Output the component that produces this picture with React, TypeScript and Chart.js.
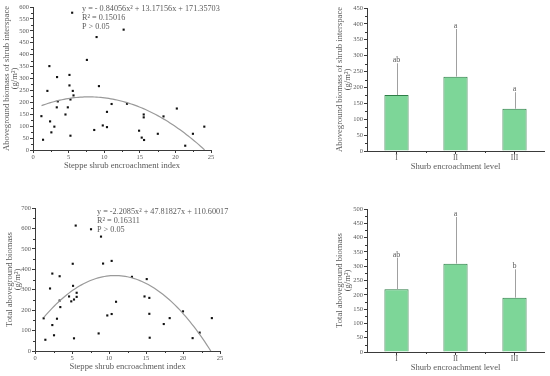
import React, { useEffect, useRef } from "react";
import { Chart, registerables } from "chart.js";
Chart.register(...registerables);

// ---------- data ----------
const shrubIndexA = [1.18, 1.41, 2.02, 2.3, 2.4, 2.58, 3.0, 3.34, 3.38, 3.48, 4.56, 4.89, 5.12, 5.12, 5.26, 5.26, 5.5, 5.59, 5.69, 7.57, 8.6, 8.93, 9.26, 9.8, 10.39, 10.39, 11.04, 12.73, 13.2, 14.9, 15.27, 15.55, 15.55, 15.6, 17.53, 18.33, 20.2, 21.38, 22.46, 24.06];
const interspaceBiomass = [142, 43, 248, 352, 120, 74, 98, 179, 306, 204, 149, 179, 315, 271, 212, 60, 576, 248, 229, 378, 84, 474, 268, 103, 96, 160, 193, 505, 194, 81, 52, 149, 137, 42, 68, 141, 174, 18, 68, 98];

const shrubIndexB = [1.17, 1.4, 2.03, 2.34, 2.34, 2.57, 2.97, 3.33, 3.33, 3.42, 4.6, 4.9, 5.1, 5.14, 5.27, 5.27, 5.5, 5.63, 5.63, 7.57, 8.6, 8.92, 9.2, 9.77, 10.36, 10.36, 10.95, 13.1, 14.8, 15.1, 15.45, 15.45, 15.5, 17.4, 18.2, 20.0, 21.3, 22.25, 23.9];
const totalBiomass = [160, 55, 306, 379, 127, 77, 158, 247, 366, 215, 267, 243, 427, 319, 252, 62, 614, 285, 265, 596, 86, 560, 428, 174, 181, 441, 241, 363, 267, 352, 260, 182, 65, 132, 161, 194, 63, 90, 161];

// quadratic fit coefficients [a, b, c] as printed on the chart, and drawn x-range
const fitCoefA = [-0.84056, 13.17156, 171.35703];
const fitRangeA = [1.2, 24.1];
const fitCoefB = [-2.2085, 47.81827, 110.60017];
const fitRangeB = [1.2, 23.76];

const equationA = ["y = - 0.84056x² + 13.17156x + 171.35703", "R² = 0.15016", "P > 0.05"];
const equationB = ["y = -2.2085x² + 47.81827x + 110.60017", "R² = 0.16311", "P > 0.05"];

const levels = ["I", "II", "III"];
const interspaceMeans = [176, 234, 133];
const interspaceUpper = [276, 384, 185];
const interspaceLetters = ["ab", "a", "a"];
const totalMeans = [219, 309, 190];
const totalUpper = [330, 472, 289];
const totalLetters = ["ab", "a", "b"];

// ---------- styles ----------
const FONT = '"Liberation Serif", "DejaVu Serif", serif';
const TEXT = "#5a5a5a";
const AXIS = "#3a3a3a";
const BAR_FILL = "rgb(125, 214, 152)";
const BAR_EDGE = "rgb(45, 125, 70)";

// ---------- plugins ----------
const minorTicks = {
  id: "minorTicks",
  afterDraw(chart: any) {
    const ctx = chart.ctx;
    ctx.save();
    ctx.strokeStyle = AXIS;
    ctx.lineWidth = 1;
    Object.values(chart.scales).forEach((s: any) => {
      const pts: number[] = [];
      if (s.type === "linear") {
        for (let i = 0; i < s.ticks.length - 1; i++) {
          pts.push(s.getPixelForValue((s.ticks[i].value + s.ticks[i + 1].value) / 2));
        }
      } else if (s.type === "category") {
        for (let i = 1; i < s.ticks.length; i++) {
          pts.push((s.getPixelForTick(i - 1) + s.getPixelForTick(i)) / 2);
        }
      }
      ctx.beginPath();
      pts.forEach((p) => {
        const q = Math.round(p) + 0.5;
        if (s.isHorizontal()) {
          ctx.moveTo(q, s.top);
          ctx.lineTo(q, s.top + 2);
        } else {
          ctx.moveTo(s.right, q);
          ctx.lineTo(s.right - 2, q);
        }
      });
      ctx.stroke();
    });
    ctx.restore();
  },
};

const errorBars = {
  id: "errorBars",
  afterDatasetsDraw(chart: any, _a: any, opts: any) {
    if (!opts || !opts.upper) return;
    const meta = chart.getDatasetMeta(0);
    const yScale = chart.scales.y;
    const ctx = chart.ctx;
    ctx.save();
    meta.data.forEach((el: any, i: number) => {
      const top = yScale.getPixelForValue(opts.upper[i]);
      const x = Math.round(el.x) + 0.5;
      ctx.strokeStyle = "#a0a0a0";
      ctx.lineWidth = 1;
      ctx.beginPath();
      ctx.moveTo(x, el.y);
      ctx.lineTo(x, top);
      ctx.stroke();
      ctx.fillStyle = TEXT;
      ctx.font = `8px ${FONT}`;
      ctx.textAlign = "center";
      ctx.textBaseline = "alphabetic";
      ctx.fillText(opts.letters[i], el.x, top - 1);
    });
    ctx.restore();
  },
};

const equationText = {
  id: "equationText",
  afterDraw(chart: any, _a: any, opts: any) {
    if (!opts || !opts.lines) return;
    const { left, top } = chart.chartArea;
    const ctx = chart.ctx;
    ctx.save();
    ctx.font = `8.2px ${FONT}`;
    ctx.fillStyle = TEXT;
    ctx.textAlign = "left";
    ctx.textBaseline = "middle";
    opts.lines.forEach((t: string, i: number) => ctx.fillText(t, left + opts.dx, top + opts.dy + i * 9));
    ctx.restore();
  },
};

// ---------- helpers ----------
function axisCommon() {
  return {
    grid: { display: true, drawOnChartArea: false, drawTicks: true, tickLength: 3, color: AXIS },
    border: { display: true, color: AXIS, width: 1 },
  };
}

function fitCurve(coef: number[], range: number[]) {
  const pts: { x: number; y: number }[] = [];
  const n = 80;
  for (let i = 0; i <= n; i++) {
    const x = range[0] + ((range[1] - range[0]) * i) / n;
    pts.push({ x, y: coef[0] * x * x + coef[1] * x + coef[2] });
  }
  return pts;
}

function scatterConfig(xs: number[], ys: number[], coef: number[], range: number[], yMax: number, yStep: number, yTitle: string, pad: any, yWidth: number, eq: string[], eqPos: number[]) {
  return {
    type: "scatter",
    data: {
      datasets: [
        {
          data: fitCurve(coef, range),
          showLine: true,
          pointRadius: 0,
          borderColor: "#9a9a9a",
          borderWidth: 1.2,
          tension: 0,
        },
        {
          data: xs.map((x, i) => ({ x, y: ys[i] })),
          pointStyle: "rect",
          pointRadius: 1.5,
          backgroundColor: "#111",
          borderColor: "#111",
          borderWidth: 0,
        },
      ],
    },
    options: {
      responsive: false,
      animation: false,
      devicePixelRatio: 1,
      layout: { padding: pad },
      plugins: {
        legend: { display: false },
        tooltip: { enabled: false },
        equationText: { lines: eq, dx: eqPos[0], dy: eqPos[1] },
      },
      scales: {
        x: {
          type: "linear",
          min: 0,
          max: 25,
          ...axisCommon(),
          ticks: { stepSize: 5, font: { size: 6.5, family: FONT }, color: TEXT, padding: 0, maxRotation: 0 },
          title: { display: true, text: "Steppe shrub encroachment index", font: { size: 8.6, family: FONT, lineHeight: "10px" }, color: TEXT, padding: 0 },
          afterFit: (s: any) => { s.height = 21; },
        },
        y: {
          type: "linear",
          min: 0,
          max: yMax,
          ...axisCommon(),
          ticks: { stepSize: yStep, font: { size: 6.5, family: FONT }, color: TEXT, padding: 1 },
          title: { display: true, text: [yTitle, "(g/m²)"], font: { size: 8.6, family: FONT, lineHeight: "8px" }, color: TEXT, padding: 0 },
          afterFit: (s: any) => { s.width = yWidth; },
        },
      },
    },
    plugins: [minorTicks, equationText],
  };
}

function barConfig(means: number[], upper: number[], letters: string[], yMax: number, yTitle: string, pad: any) {
  return {
    type: "bar",
    data: {
      labels: levels,
      datasets: [
        {
          data: means,
          backgroundColor: BAR_FILL,
          borderColor: BAR_EDGE,
          borderWidth: 1,
          barPercentage: 0.41,
          categoryPercentage: 1,
        },
      ],
    },
    options: {
      responsive: false,
      animation: false,
      devicePixelRatio: 1,
      layout: { padding: pad },
      plugins: {
        legend: { display: false },
        tooltip: { enabled: false },
        errorBars: { upper, letters },
      },
      scales: {
        x: {
          type: "category",
          offset: true,
          grid: { display: true, drawOnChartArea: false, drawTicks: true, tickLength: 3, color: AXIS, offset: false },
          border: { display: true, color: AXIS, width: 1 },
          ticks: { font: { size: 7.5, family: FONT }, color: TEXT, padding: 0, maxRotation: 0 },
          title: { display: true, text: "Shurb encroachment level", font: { size: 8.6, family: FONT, lineHeight: "10px" }, color: TEXT, padding: 0 },
          afterFit: (s: any) => { s.height = 21; },
        },
        y: {
          type: "linear",
          min: 0,
          max: yMax,
          ...axisCommon(),
          ticks: { stepSize: 50, font: { size: 6.5, family: FONT }, color: TEXT, padding: 1 },
          title: { display: true, text: [yTitle, "(g/m²)"], font: { size: 8.6, family: FONT, lineHeight: "8px" }, color: TEXT, padding: 0 },
          afterFit: (s: any) => { s.width = 31; },
        },
      },
    },
    plugins: [minorTicks, errorBars],
  };
}

function ChartBox({ left, top, width, height, make }: any) {
  const ref = useRef<HTMLCanvasElement>(null);
  useEffect(() => {
    const chart = new Chart(ref.current as HTMLCanvasElement, make());
    return () => chart.destroy();
  }, []);
  return (
    <div style={{ position: "absolute", left, top, width, height }}>
      <canvas ref={ref} width={width} height={height} style={{ width, height, display: "block" }} />
    </div>
  );
}

export default function App() {
  return (
    <div style={{ position: "fixed", left: 0, top: 0, width: 550, height: 376, background: "#fff", overflow: "hidden" }}>
      <ChartBox
        left={0}
        top={0}
        width={275}
        height={188}
        make={() =>
          scatterConfig(shrubIndexA, interspaceBiomass, fitCoefA, fitRangeA, 600, 50,
            "Aboveground biomass of shrub interspace",
            { left: 3, top: 7, right: 64, bottom: 17 }, 30, equationA, [49, 2])
        }
      />
      <ChartBox
        left={275}
        top={0}
        width={275}
        height={188}
        make={() =>
          barConfig(interspaceMeans, interspaceUpper, interspaceLetters, 450,
            "Aboveground biomass of shrub interspace",
            { left: 61, top: 8, right: 6, bottom: 16 })
        }
      />
      <ChartBox
        left={0}
        top={188}
        width={275}
        height={188}
        make={() =>
          scatterConfig(shrubIndexB, totalBiomass, fitCoefB, fitRangeB, 700, 100,
            "Total aboveground biomass",
            { left: 6, top: 20, right: 55, bottom: 4 }, 29, equationB, [62, 4])
        }
      />
      <ChartBox
        left={275}
        top={188}
        width={275}
        height={188}
        make={() =>
          barConfig(totalMeans, totalUpper, totalLetters, 500,
            "Total aboveground biomass",
            { left: 61, top: 21, right: 6, bottom: 3 })
        }
      />
    </div>
  );
}
